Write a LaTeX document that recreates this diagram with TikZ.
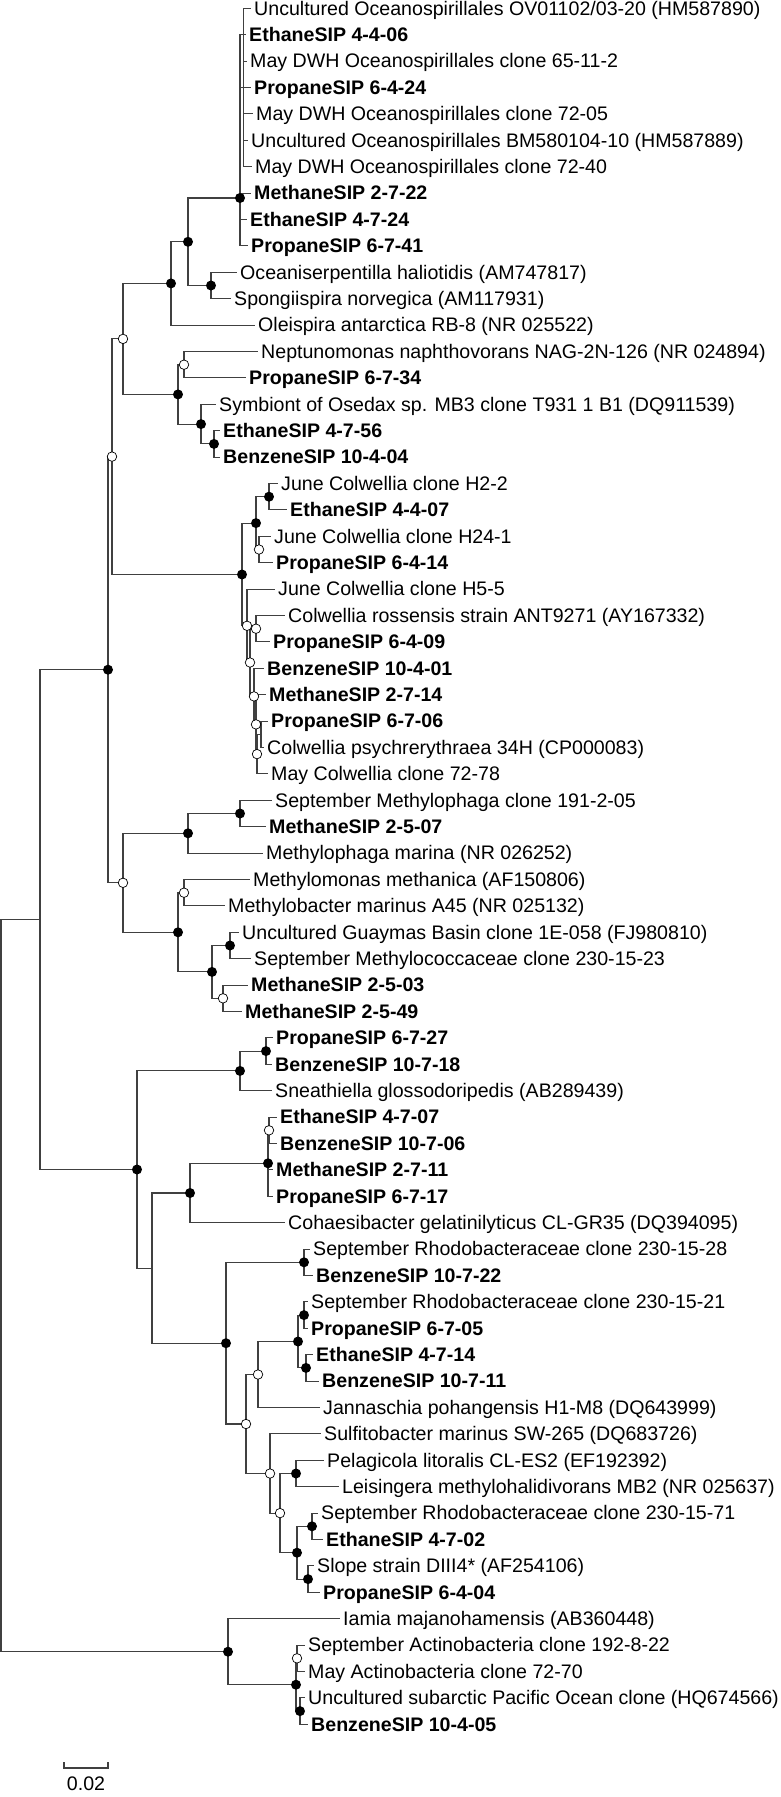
\documentclass[tikz,border=0pt]{standalone}
\usepackage{fontspec}
\setmainfont{Liberation Sans}
\newcommand\lab{\fontsize{19.6}{22}\selectfont}
\newcommand\labb{\fontsize{19.6}{22}\selectfont\bfseries}
\tikzset{
 br/.style={line width=1.1pt, draw=black!75},
 lf/.style={anchor=west, inner xsep=3pt, inner ysep=0pt, text height=13.5pt, text depth=0pt, font=\lab},
 lfb/.style={lf, font=\labb},
 dotb/.style={circle, fill=black, inner sep=0pt, minimum size=10pt},
 doto/.style={circle, draw=black, line width=0.7pt, fill=white, inner sep=0pt, minimum size=9.5pt},
}
\begin{document}
\begin{tikzpicture}[x=1pt,y=-1pt]
\fill[white] (0,0) rectangle (780,1797);
\useasboundingbox (0,0) rectangle (780,1797);
% internal nodes
\coordinate (root) at (1,1285.7);
\coordinate (ZZ) at (40,919.6);
\coordinate (Z) at (108,669.7);
\coordinate (J) at (112,456.6);
\coordinate (E) at (123,338.9);
\coordinate (D) at (171,283.4);
\coordinate (B) at (188,241.8);
\coordinate (A) at (240,198);
\coordinate (A1) at (243.5,87.5);
\coordinate (C) at (211,285.5);
\coordinate (G) at (178,394.4);
\coordinate (F) at (184,364.7);
\coordinate (H) at (201,424.1);
\coordinate (I) at (214,443.9);
\coordinate (K) at (242,574.5);
\coordinate (L) at (256,523.1);
\coordinate (N) at (269,496.7);
\coordinate (O) at (259,549.5);
\coordinate (P) at (247,625.8);
\coordinate (R) at (250,662.5);
\coordinate (Q) at (256,628.7);
\coordinate (S) at (254,696.4);
\coordinate (T) at (256,724.4);
\coordinate (b) at (257,754.1);
\coordinate (aa) at (261,734.3);
\coordinate (X) at (123,882.8);
\coordinate (W) at (188,833.3);
\coordinate (V) at (240,813.5);
\coordinate (Y) at (178,932.3);
\coordinate (Y1) at (184,892.7);
\coordinate (Y2) at (212,971.9);
\coordinate (Y3) at (230,945.5);
\coordinate (Y4) at (223,998.3);
\coordinate (AC) at (137,1169.5);
\coordinate (AA) at (240,1070.9);
\coordinate (AB) at (266,1051.1);
\coordinate (AD) at (152,1268.1);
\coordinate (AE) at (190,1193);
\coordinate (AF) at (268,1163.3);
\coordinate (AF1) at (269,1130.3);
\coordinate (AG) at (226,1343.2);
\coordinate (AH) at (304,1262.3);
\coordinate (AI) at (246,1424);
\coordinate (AJ) at (258,1374.5);
\coordinate (AL) at (298,1341.5);
\coordinate (AL1) at (304,1315.1);
\coordinate (AM) at (306,1367.9);
\coordinate (AK) at (270,1473.5);
\coordinate (AO) at (280,1513.1);
\coordinate (AN) at (296,1473.5);
\coordinate (AQ) at (297,1552.7);
\coordinate (AP) at (312,1526.3);
\coordinate (AR) at (308,1579.1);
\coordinate (BA) at (228,1651.7);
\coordinate (BB) at (296,1684.7);
\coordinate (BC) at (297,1658.3);
\coordinate (BD) at (300,1711.1);
% leaves
\node[lf]  (l1)  at (251,8.3)   {Uncultured Oceanospirillales OV01102/03-20 (HM587890)};
\node[lfb] (l2)  at (246,34.7)  {EthaneSIP 4-4-06};
\node[lf]  (l3)  at (247,61.1)  {May DWH Oceanospirillales clone 65-11-2};
\node[lfb] (l4)  at (251,87.5)  {PropaneSIP 6-4-24};
\node[lf]  (l5)  at (253,113.9) {May DWH Oceanospirillales clone 72-05};
\node[lf]  (l6)  at (248,140.3) {Uncultured Oceanospirillales BM580104-10 (HM587889)};
\node[lf]  (l7)  at (252,166.7) {May DWH Oceanospirillales clone 72-40};
\node[lfb] (l8)  at (251,193.1) {MethaneSIP 2-7-22};
\node[lfb] (l9)  at (247,219.5) {EthaneSIP 4-7-24};
\node[lfb] (l10) at (248,245.9) {PropaneSIP 6-7-41};
\node[lf]  (l11) at (237,272.3) {Oceaniserpentilla haliotidis (AM747817)};
\node[lf]  (l12) at (231,298.7) {Spongiispira norvegica (AM117931)};
\node[lf]  (l13) at (255,325.1) {Oleispira antarctica RB-8 (NR 025522)};
\node[lf]  (l14) at (258,351.5) {Neptunomonas naphthovorans NAG-2N-126 (NR 024894)};
\node[lfb] (l15) at (246,377.9) {PropaneSIP 6-7-34};
\node[lf]  (l16) at (216,404.3) {Symbiont of Osedax sp. MB3 clone T931 1 B1 (DQ911539)};
\node[lfb] (l17) at (220,430.7) {EthaneSIP 4-7-56};
\node[lfb] (l18) at (220,457.1) {BenzeneSIP 10-4-04};
\node[lf]  (l19) at (278,483.5) {June Colwellia clone H2-2};
\node[lfb] (l20) at (287,509.9) {EthaneSIP 4-4-07};
\node[lf]  (l21) at (271,536.3) {June Colwellia clone H24-1};
\node[lfb] (l22) at (273,562.7) {PropaneSIP 6-4-14};
\node[lf]  (l23) at (275,589.1) {June Colwellia clone H5-5};
\node[lf]  (l24) at (285,615.5) {Colwellia rossensis strain ANT9271 (AY167332)};
\node[lfb] (l25) at (270,641.9) {PropaneSIP 6-4-09};
\node[lfb] (l26) at (264,668.3) {BenzeneSIP 10-4-01};
\node[lfb] (l27) at (266,694.7) {MethaneSIP 2-7-14};
\node[lfb] (l28) at (268,721.1) {PropaneSIP 6-7-06};
\node[lf]  (l29) at (264,747.5) {Colwellia psychrerythraea 34H (CP000083)};
\node[lf]  (l30) at (268,773.9) {May Colwellia clone 72-78};
\node[lf]  (l31) at (272,800.3) {September Methylophaga clone 191-2-05};
\node[lfb] (l32) at (266,826.7) {MethaneSIP 2-5-07};
\node[lf]  (l33) at (263,853.1) {Methylophaga marina (NR 026252)};
\node[lf]  (l34) at (250,879.5) {Methylomonas methanica (AF150806)};
\node[lf]  (l35) at (225,905.9) {Methylobacter marinus A45 (NR 025132)};
\node[lf]  (l36) at (239,932.3) {Uncultured Guaymas Basin clone 1E-058 (FJ980810)};
\node[lf]  (l37) at (251,958.7) {September Methylococcaceae clone 230-15-23};
\node[lfb] (l38) at (248,985.1) {MethaneSIP 2-5-03};
\node[lfb] (l39) at (242,1011.5) {MethaneSIP 2-5-49};
\node[lfb] (l40) at (273,1037.9) {PropaneSIP 6-7-27};
\node[lfb] (l41) at (272,1064.3) {BenzeneSIP 10-7-18};
\node[lf]  (l42) at (272,1090.7) {Sneathiella glossodoripedis (AB289439)};
\node[lfb] (l43) at (277,1117.1) {EthaneSIP 4-7-07};
\node[lfb] (l44) at (277,1143.5) {BenzeneSIP 10-7-06};
\node[lfb] (l45) at (273,1169.9) {MethaneSIP 2-7-11};
\node[lfb] (l46) at (273,1196.3) {PropaneSIP 6-7-17};
\node[lf]  (l47) at (285,1222.7) {Cohaesibacter gelatinilyticus CL-GR35 (DQ394095)};
\node[lf]  (l48) at (310,1249.1) {September Rhodobacteraceae clone 230-15-28};
\node[lfb] (l49) at (313,1275.5) {BenzeneSIP 10-7-22};
\node[lf]  (l50) at (308,1301.9) {September Rhodobacteraceae clone 230-15-21};
\node[lfb] (l51) at (308,1328.3) {PropaneSIP 6-7-05};
\node[lfb] (l52) at (313,1354.7) {EthaneSIP 4-7-14};
\node[lfb] (l53) at (319,1381.1) {BenzeneSIP 10-7-11};
\node[lf]  (l54) at (320,1407.5) {Jannaschia pohangensis H1-M8 (DQ643999)};
\node[lf]  (l55) at (321,1433.9) {Sulfitobacter marinus SW-265 (DQ683726)};
\node[lf]  (l56) at (324,1460.3) {Pelagicola litoralis CL-ES2 (EF192392)};
\node[lf]  (l57) at (339,1486.7) {Leisingera methylohalidivorans MB2 (NR 025637)};
\node[lf]  (l58) at (318,1513.1) {September Rhodobacteraceae clone 230-15-71};
\node[lfb] (l59) at (323,1539.5) {EthaneSIP 4-7-02};
\node[lf]  (l60) at (314,1565.9) {Slope strain DIII4* (AF254106)};
\node[lfb] (l61) at (320,1592.3) {PropaneSIP 6-4-04};
\node[lf]  (l62) at (340,1618.7) {Iamia majanohamensis (AB360448)};
\node[lf]  (l63) at (305,1645.1) {September Actinobacteria clone 192-8-22};
\node[lf]  (l64) at (305,1671.5) {May Actinobacteria clone 72-70};
\node[lf]  (l65) at (305,1697.9) {Uncultured subarctic Pacific Ocean clone (HQ674566)};
\node[lfb] (l66) at (308,1724.3) {BenzeneSIP 10-4-05};
% branches
\foreach \p/\c in {root/ZZ, root/BA, ZZ/Z, ZZ/AC, Z/J, Z/X, J/E, J/K, E/D, E/G,
  D/B, D/l13, B/A, B/C, A/l2, A/A1, A/l8, A/l9, A/l10,
  A1/l1, A1/l3, A1/l4, A1/l5, A1/l6, A1/l7, C/l11, C/l12,
  G/F, G/H, F/l14, F/l15, H/l16, H/I, I/l17, I/l18,
  K/L, K/P, L/N, L/O, N/l19, N/l20, O/l21, O/l22, P/l23, P/R,
  R/Q, R/S, Q/l24, Q/l25, S/l26, S/T, T/l27, T/b, b/aa, b/l30, aa/l28, aa/l29,
  X/W, X/Y, W/V, W/l33, V/l31, V/l32, Y/Y1, Y/Y2, Y1/l34, Y1/l35,
  Y2/Y3, Y2/Y4, Y3/l36, Y3/l37, Y4/l38, Y4/l39,
  AC/AA, AC/AD, AA/AB, AA/l42, AB/l40, AB/l41, AD/AE, AD/AG,
  AE/AF, AE/l47, AF/AF1, AF/l45, AF/l46, AF1/l43, AF1/l44,
  AG/AH, AG/AI, AH/l48, AH/l49, AI/AJ, AI/AK, AJ/AL, AJ/l54,
  AL/AL1, AL/AM, AL1/l50, AL1/l51, AM/l52, AM/l53,
  AK/l55, AK/AO, AO/AN, AO/AQ, AN/l56, AN/l57, AQ/AP, AQ/AR,
  AP/l58, AP/l59, AR/l60, AR/l61,
  BA/l62, BA/BB, BB/BC, BB/BD, BC/l63, BC/l64, BD/l65, BD/l66}
  \draw[br] (\p) |- (\c);
% bootstrap dots
\foreach \n in {A, B, C, D, G, H, I, K, L, N, Z, V, W, Y, Y2, Y3, AB, AA, AC, AF, AE,
  AH, AL1, AL, AM, AN, AP, AQ, AR, AG, BA, BB, BD}
  \node[dotb] (dot\n) at (\n) {};
\foreach \n in {E, F, J, O, P, Q, R, S, T, b, X, Y1, Y4, AF1, AI, AJ, AK, AO, BC}
  \node[doto] (dot\n) at (\n) {};
% scale bar
\coordinate (sbL) at (64,1768);
\coordinate (sbR) at (108,1768);
\coordinate (sbLt) at (64,1762);
\coordinate (sbRt) at (108,1762);
\draw[br] (sbLt) -- (sbL) -- (sbR) -- (sbRt);
\node[inner sep=0pt, text height=14pt, text depth=0pt, font=\lab] (sblab) at (86,1783) {0.02};
\end{tikzpicture}
\end{document}
